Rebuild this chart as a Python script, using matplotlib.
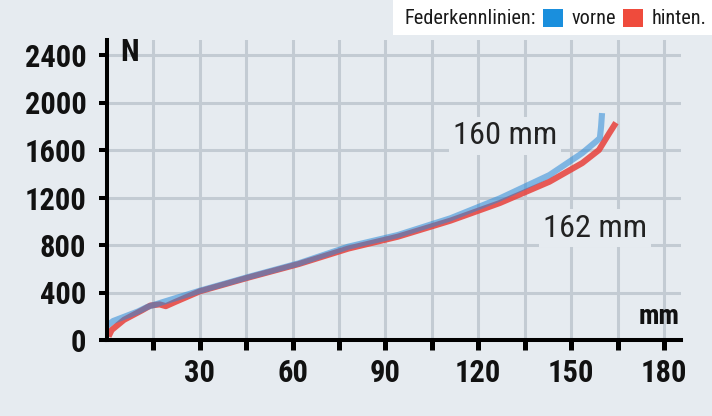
import matplotlib
matplotlib.use("Agg")
import matplotlib.pyplot as plt
from matplotlib import font_manager as fm
from matplotlib.patches import Rectangle

# ---------------- data ----------------
vorne_mm = [0, 2, 6, 10, 13, 20, 30, 46, 62, 78, 94, 111, 127, 143, 153.6, 158, 159.3, 159.7, 160]
vorne_N = [120, 160, 200, 240, 278, 335, 415, 533, 646, 786, 884, 1025, 1193, 1389, 1574, 1670, 1700, 1800, 1911]

hinten_mm = [0.5, 1.5, 5.5, 11.3, 14, 17, 19, 22, 30, 46, 62, 78, 94, 111, 127, 143, 153.6, 159, 162.3, 164.5]
hinten_N = [30, 84, 170, 250, 290, 300, 285, 320, 410, 528, 640, 770, 870, 1005, 1154, 1333, 1490, 1600, 1740, 1830]

x_ticks = [15, 30, 45, 60, 75, 90, 105, 120, 135, 150, 165, 180]
x_labels = ["", "30", "", "60", "", "90", "", "120", "", "150", "", "180"]
y_ticks = [0, 400, 800, 1200, 1600, 2000, 2400]
y_labels = ["0", "400", "800", "1200", "1600", "2000", "2400"]

legend_title = "Federkennlinien:"
series_names = ["vorne", "hinten."]
annot_vorne = "160 mm"
annot_hinten = "162 mm"

# ---------------- fonts ----------------
names = {f.name for f in fm.fontManager.ttflist}
FONT = "DejaVu Sans"
narrow = False
for cand in ["Liberation Sans Narrow", "Roboto Condensed", "Open Sans Condensed", "Liberation Sans"]:
    if cand in names:
        FONT = cand
        narrow = cand != "Liberation Sans"
        break
k = 1.0 if narrow else 0.8
plt.rcParams["font.family"] = [FONT, "DejaVu Sans"]

BG = "#e6ebf0"
GRID = "#c3cbd3"
BLUE = "#2a8ad8"
RED = "#e8403a"

W, H = 712, 416
fig = plt.figure(figsize=(W / 100, H / 100), dpi=100, facecolor=BG)

x0, y0 = 107, 340
xmax, ymax = 185.5, 2526
pxmm = 3.094
pxN = 0.11875
ax = fig.add_axes([x0 / W, (H - y0) / H, xmax * pxmm / W, ymax * pxN / H])
ax.set_facecolor(BG)
ax.set_xlim(0, xmax)
ax.set_ylim(0, ymax)

for s in ["top", "right"]:
    ax.spines[s].set_visible(False)
for s in ["left", "bottom"]:
    ax.spines[s].set_linewidth(2.9)
    ax.spines[s].set_color("black")
    ax.spines[s].set_zorder(5)

ax.set_xticks(x_ticks)
ax.set_xticklabels(x_labels)
ax.set_yticks(y_ticks)
ax.set_yticklabels(y_labels)
ax.tick_params(axis="x", direction="out", length=7.2, width=3.6, pad=5.5, color="black",
               labelsize=22 * k)
ax.tick_params(axis="y", direction="out", length=5.8, width=2.9, pad=9, color="black",
               labelsize=22 * k)
for lab in ax.get_xticklabels() + ax.get_yticklabels():
    lab.set_fontweight("bold")
    lab.set_color("#111111")

ax.set_axisbelow(True)
ax.grid(True, color=GRID, linewidth=2.2)

# curves
ax.plot(hinten_mm, hinten_N, color=RED, lw=4.4, alpha=0.85, solid_capstyle="butt", zorder=3)
ax.plot(vorne_mm, vorne_N, color=BLUE, lw=4.4, alpha=0.55, solid_capstyle="butt", zorder=3)

# annotations
box = dict(facecolor=BG, edgecolor="none", pad=3)
ax.text(128.6, 1718, annot_vorne, fontsize=23.3 * k, color="#222222", ha="center", va="center",
        bbox=box, zorder=4)
ax.text(157.7, 943, annot_hinten, fontsize=23.3 * k, color="#222222", ha="center", va="center",
        bbox=box, zorder=4)
ax.text(178.4, 194, "mm", fontsize=20 * k, fontweight="bold", color="#111111",
        ha="center", va="center", zorder=4)
ax.text(7.4, 2425, "N", fontsize=22 * k, fontweight="bold", color="#111111",
        ha="center", va="center", zorder=4)

# legend box in top right
fig.patches.append(Rectangle((393 / W, 1 - 35 / H), (W - 393) / W, 35 / H,
                             transform=fig.transFigure, facecolor="white", edgecolor="none", zorder=1))
fig.text(405 / W, 1 - 19 / H, legend_title, fontsize=14.6 * k, color="#1a1a1a", ha="left", va="center")
fig.patches.append(Rectangle((543 / W, 1 - 27 / H), 20 / W, 18 / H, transform=fig.transFigure,
                             facecolor="#1a8fdd", edgecolor="none", zorder=2))
fig.text(572 / W, 1 - 19 / H, series_names[0], fontsize=14.6 * k, color="#1a1a1a", ha="left", va="center")
fig.patches.append(Rectangle((623 / W, 1 - 27 / H), 20 / W, 18 / H, transform=fig.transFigure,
                             facecolor="#ef4b3c", edgecolor="none", zorder=2))
fig.text(652 / W, 1 - 19 / H, series_names[1], fontsize=14.6 * k, color="#1a1a1a", ha="left", va="center")

fig.savefig("out.png", dpi=100, facecolor=BG)
